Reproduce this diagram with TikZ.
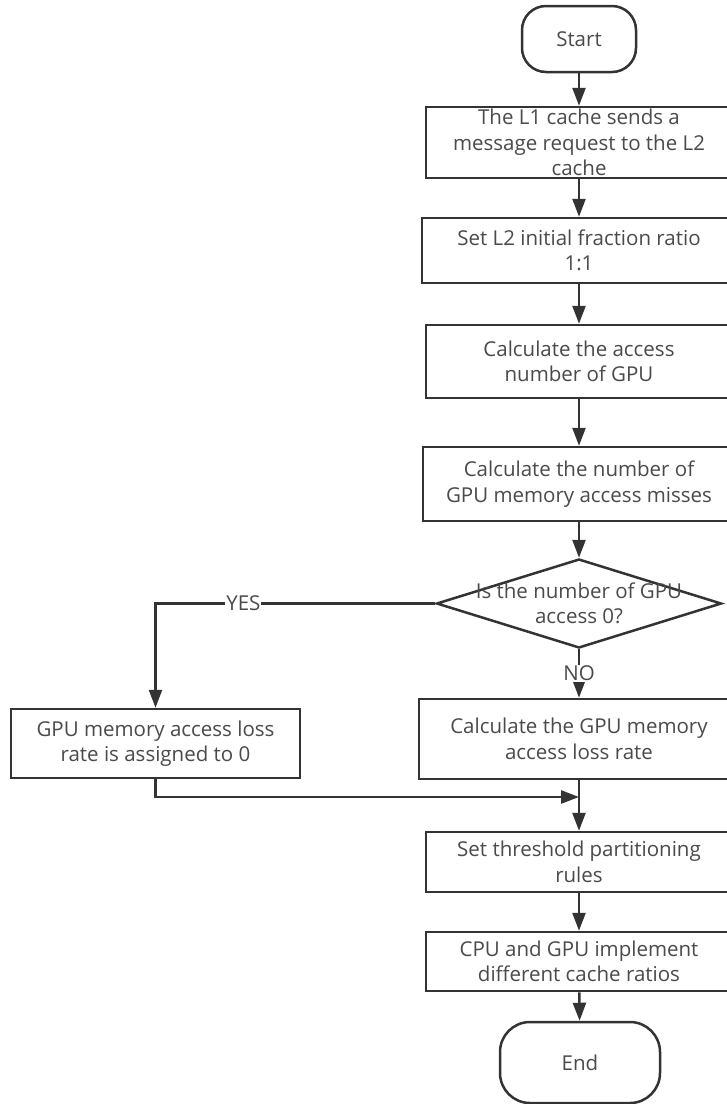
\documentclass[tikz,border=0pt]{standalone}
\usepackage{fontspec}
\setmainfont{Open Sans}
\usepackage{tikz}
\usetikzlibrary{arrows.meta,shapes.geometric}
\definecolor{linec}{HTML}{333333}
\definecolor{txtc}{HTML}{4a4a4a}
\tikzset{
  proc/.style={draw=linec,line width=2.5pt,inner sep=0pt,align=center,text=txtc,
    font=\fontsize{20.5}{25.5}\selectfont},
  term/.style={proc,rounded corners=24pt},
  decision/.style={diamond,draw=linec,line width=2.5pt,inner sep=0pt},
  flow/.style={draw=linec,line width=2.5pt,-{Triangle[length=18pt,width=13pt]}},
  tag/.style={fill=white,text=txtc,inner sep=1pt,font=\fontsize{20.5}{24}\selectfont}
}

\begin{document}
\begin{tikzpicture}[x=1pt,y=-1pt]
  \useasboundingbox[fill=white] (0,0) rectangle (727,1104);
  % main column
  \node[term,minimum width=114pt,minimum height=66pt] (start) at (579,39) {Start};
  \node[proc,minimum width=306pt,minimum height=71pt] (l1req) at (579,142.5)
    {The L1 cache sends a\\message request to the L2\\cache};
  \node[proc,minimum width=314pt,minimum height=65pt] (ratio) at (579,250.5)
    {Set L2 initial fraction ratio\\1:1};
  \node[proc,minimum width=306pt,minimum height=73pt] (access) at (579,361.5)
    {Calculate the access\\number of GPU};
  \node[proc,minimum width=312pt,minimum height=74pt] (misses) at (579,484)
    {Calculate the number of\\GPU memory access misses};
  \node[decision,minimum width=285pt,minimum height=89pt,
    label={[name=qtext,align=center,text=txtc,font=\fontsize{20.5}{25.5}\selectfont]center:Is the number of GPU\\access 0?}]
    (isgpu) at (579,603.5) {};
  \node[proc,minimum width=320pt,minimum height=80pt] (lossrate) at (579,739)
    {Calculate the GPU memory\\access loss rate};
  \node[proc,minimum width=289pt,minimum height=69pt] (zero) at (155.5,743.5)
    {GPU memory access loss\\rate is assigned to 0};
  \coordinate (mrg) at (579,797);
  \node[proc,minimum width=306pt,minimum height=60pt] (thresh) at (579,862)
    {Set threshold partitioning\\rules};
  \node[proc,minimum width=306pt,minimum height=59pt] (cpugpu) at (579,961.5)
    {CPU and GPU implement\\different cache ratios};
  \node[term,minimum width=160pt,minimum height=81pt,rounded corners=30pt] (end) at (580,1062.5) {End};

  % connectors
  \draw[flow] (start) -- (l1req);
  \draw[flow] (l1req) -- (ratio);
  \draw[flow] (ratio) -- (access);
  \draw[flow] (access) -- (misses);
  \draw[flow] (misses) -- (isgpu);
  \draw[flow] (isgpu.west) -| node[tag,pos=0.343] {YES} (zero);
  \draw[flow] (isgpu.south) -- node[tag] {NO} (lossrate);
  \draw[flow] (zero.south) |- (mrg);
  \draw[flow] (lossrate) -- (thresh);
  \draw[flow] (thresh) -- (cpugpu);
  \draw[flow] (cpugpu) -- (end);
\end{tikzpicture}
\end{document}
